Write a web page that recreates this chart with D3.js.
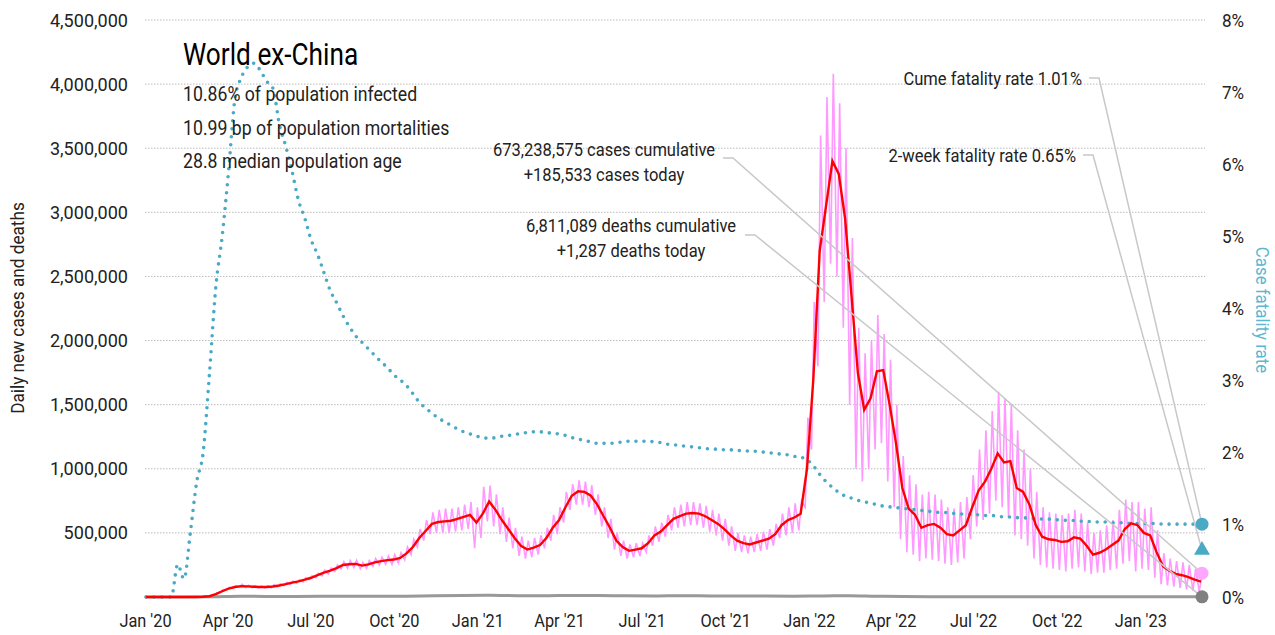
<!DOCTYPE html>
<html>
<head>
<meta charset="utf-8">
<script src="https://cdn.jsdelivr.net/npm/d3@7"></script>
<style>
body { margin: 0; background: #fff; }
svg text { font-family: Roboto, "Noto Sans", sans-serif; fill: #222; }
</style>
</head>
<body>
<script>
// weekly series, first week starts Mon 30 Dec 2019 (three empty weeks before the data)
const firstWeek = "2019-12-30";
const lastDay = "2023-03-10";

// 7-day average of new cases, thousands
const casesAvgK = [0,0,0,
  0,0,0,0,0,0.5,2,6,22,45,
  65,78,85,83,80,78,78,82,90,100,112,122,135,
  150,170,190,205,225,250,255,258,245,255,270,280,288,
  292,305,340,390,460,515,570,585,590,595,610,625,640,
  580,650,745,680,600,530,460,400,370,385,405,460,540,
  600,700,790,825,820,790,720,630,540,440,390,360,370,
  380,420,480,510,560,610,630,650,655,650,630,600,570,
  530,480,440,420,410,425,440,455,490,560,600,620,650,
  1000,1700,2700,3050,3400,3300,2950,2350,1750,1460,1550,1760,1770,
  1500,1200,850,690,640,540,560,570,540,490,480,520,560,
  700,830,900,1000,1120,1050,1060,850,820,720,560,470,450,
  445,430,435,465,455,400,330,345,370,405,440,530,575,
  560,500,480,350,240,205,180,170,155,135,120];

// daily new cases, weekly peak and weekly trough, thousands
const casesHighK = [0,0,0,
  0,0,0,0,0,1,4,12,32,58,
  75,88,100,92,88,86,88,95,103,115,125,135,150,
  165,185,210,225,250,275,285,285,270,285,300,310,320,
  330,345,390,450,530,600,660,680,690,690,700,720,740,
  700,860,870,800,700,620,540,470,440,460,480,540,640,
  700,820,880,910,900,870,800,700,610,500,440,410,420,
  420,480,550,580,640,700,720,740,740,730,710,680,650,
  610,550,500,480,470,490,510,530,570,650,700,730,750,
  1400,2300,3600,3900,4080,3850,3500,2800,2100,1900,2000,2200,2050,
  1850,1500,1100,950,880,800,820,800,760,700,690,740,780,
  950,1150,1300,1450,1600,1550,1500,1300,1150,1000,820,700,660,
  650,640,650,680,650,580,500,520,560,600,680,760,740,
  740,690,700,520,340,300,280,270,250,220,190];

const casesLowK = [0,0,0,
  0,0,0,0,0,0,1,3,15,38,
  58,70,75,74,72,70,70,72,80,88,98,108,118,
  135,150,165,180,200,220,225,230,220,225,240,250,255,
  255,265,290,330,390,440,490,500,500,500,510,520,530,
  380,460,590,550,490,430,380,320,300,310,330,380,440,
  490,580,680,720,720,700,640,550,460,370,320,300,310,
  320,350,400,430,470,520,540,550,560,560,540,510,480,
  440,400,360,350,340,350,360,370,400,460,480,500,520,
  700,1150,1800,2300,2600,2500,2100,1500,1000,900,1000,1150,1200,
  900,700,450,350,330,280,300,290,280,260,250,270,300,
  450,550,600,650,750,700,620,480,450,400,300,250,230,
  220,210,200,220,230,200,180,190,190,210,220,260,280,
  200,220,210,150,100,90,80,70,60,50,40];

// cumulative case fatality rate, percent
const fatalityPct = [0,0,0,
  0,0,0.45,0.25,0.9,1.6,2.0,3.1,4.3,5.0,
  5.9,6.9,7.2,7.35,7.4,7.3,7.15,7.05,6.55,6.25,5.9,5.5,5.25,
  4.95,4.75,4.5,4.25,4.08,3.9,3.75,3.62,3.53,3.44,3.35,3.26,3.18,
  3.08,3.01,2.93,2.82,2.7,2.62,2.55,2.48,2.43,2.38,2.33,2.29,2.26,
  2.23,2.21,2.2,2.21,2.23,2.24,2.25,2.27,2.28,2.29,2.29,2.28,2.27,
  2.26,2.24,2.21,2.19,2.17,2.15,2.13,2.13,2.13,2.14,2.15,2.16,2.16,
  2.16,2.16,2.15,2.14,2.12,2.11,2.1,2.09,2.08,2.07,2.06,2.05,2.05,
  2.04,2.04,2.03,2.03,2.02,2.02,2.01,2.0,1.99,1.98,1.97,1.95,1.94,
  1.9,1.82,1.7,1.6,1.52,1.45,1.4,1.37,1.34,1.32,1.3,1.28,1.26,
  1.25,1.24,1.23,1.22,1.21,1.2,1.19,1.18,1.17,1.17,1.16,1.15,1.15,
  1.14,1.14,1.13,1.13,1.12,1.11,1.11,1.1,1.1,1.09,1.09,1.08,1.08,
  1.07,1.07,1.06,1.06,1.05,1.05,1.04,1.04,1.04,1.03,1.03,1.03,1.02,
  1.02,1.02,1.02,1.02,1.01,1.01,1.01,1.01,1.01,1.01,1.01];

// daily deaths, monthly level
const deathDates = ["2020-01-01","2020-02-15","2020-03-15","2020-04-15","2020-05-15","2020-06-15","2020-07-15","2020-08-15","2020-09-15","2020-10-15","2020-11-15","2020-12-15",
  "2021-01-15","2021-02-15","2021-03-15","2021-04-15","2021-05-15","2021-06-15","2021-07-15","2021-08-15","2021-09-15","2021-10-15","2021-11-15","2021-12-15",
  "2022-01-15","2022-02-15","2022-03-15","2022-04-15","2022-05-15","2022-06-15","2022-07-15","2022-08-15","2022-09-15","2022-10-15","2022-11-15","2022-12-15",
  "2023-01-15","2023-02-15","2023-03-10"];
const deathsDaily = [0,10,1500,6500,4300,4600,5400,5800,5300,6200,9800,11500,
  13500,10000,9000,12500,12000,9000,8200,9900,8500,6900,7000,6700,
  7500,10500,6500,3200,2000,1400,2000,2200,1700,1500,1300,1600,
  1900,1200,1000];

const yTicks = [500000,1000000,1500000,2000000,2500000,3000000,3500000,4000000,4500000];
const rTicks = [0,0.01,0.02,0.03,0.04,0.05,0.06,0.07,0.08];

const title = "World ex-China";
const facts = ["10.86% of population infected", "10.99 bp of population mortalities", "28.8 median population age"];
const casesCum = "673,238,575", casesToday = 185533;
const deathsCum = "6,811,089", deathsToday = 1287;
const cumeRate = 1.01, twoWeekRate = 0.65;

const pink = "#ff99ff", red = "#ff0000", teal = "#4aaac5", tealText = "#5db7d0", grey = "#999";

const W = 1275, H = 635;
const svg = d3.select("body").append("svg").attr("width", W).attr("height", H);

const x = d3.scaleTime().domain([new Date("2020-01-01T00:00"), new Date(lastDay + "T00:00")]).range([145, 1202]);
const y = d3.scaleLinear().domain([0, 4500000]).range([597, 20]);
const yR = d3.scaleLinear().domain([0, 0.08]).range([597, 20]);

const w0 = new Date(firstWeek + "T00:00");
const weekDay = (i, off) => d3.timeDay.offset(w0, i * 7 + off);

// narrow text: Roboto squeezed horizontally
function label(parent, px, py, str, size, sx, anchor) {
  return parent.append("text")
    .attr("transform", `translate(${px},${py}) scale(${sx},1)`)
    .attr("text-anchor", anchor || "start")
    .attr("font-size", size)
    .text(str);
}

// gridlines
svg.append("g").selectAll("line").data(yTicks).join("line")
  .attr("x1", 145).attr("x2", 1205)
  .attr("y1", d => y(d)).attr("y2", d => y(d))
  .attr("stroke", "#bbb").attr("stroke-dasharray", "1.5,1.5");

// axes
const yAxis = d3.axisLeft(y).tickValues(yTicks).tickSize(0).tickPadding(0).tickFormat(d3.format(","));
svg.append("g").attr("class", "y axis").attr("transform", "translate(128,0)").call(yAxis)
  .call(g => g.select(".domain").remove())
  .selectAll("text").attr("font-size", 19).attr("fill", "#222").attr("font-family", null)
  .attr("transform", "scale(0.95,1)");

const rAxis = d3.axisRight(yR).tickValues(rTicks).tickSize(0).tickPadding(0).tickFormat(d3.format(".0%"));
svg.append("g").attr("class", "r axis").attr("transform", "translate(1222,0)").call(rAxis)
  .call(g => g.select(".domain").remove())
  .selectAll("text").attr("font-size", 19).attr("fill", tealText).attr("font-family", null)
  .attr("transform", "scale(0.9,1)");

const xAxis = d3.axisBottom(x).ticks(d3.timeMonth.every(3)).tickSize(0).tickPadding(0).tickFormat(d3.timeFormat("%b '%y"));
svg.append("g").attr("class", "x axis").attr("transform", "translate(0,620)").call(xAxis)
  .call(g => g.select(".domain").remove())
  .selectAll("text").attr("font-size", 19).attr("fill", "#222").attr("font-family", null)
  .attr("y", 0).attr("dy", "0.35em").attr("transform", "scale(0.86,1)");

svg.selectAll(".axis text").style("fill", null);

label(svg, 24, 308, "Daily new cases and deaths", 18.5, 0.93, "middle")
  .attr("transform", "translate(24,308) rotate(-90) scale(0.93,1)");
label(svg, 1256, 310, "Case fatality rate", 18.5, 0.91, "middle")
  .attr("transform", "translate(1256,310) rotate(90) scale(0.91,1)")
  .style("fill", tealText);

// raw daily cases: weekly trough then weekly peak
const pinkPts = [];
casesLowK.forEach((v, i) => {
  pinkPts.push([weekDay(i, 1), v * 1000]);
  pinkPts.push([weekDay(i, 4), casesHighK[i] * 1000]);
});
svg.append("path").datum(pinkPts.filter(d => d[0] >= x.domain()[0]))
  .attr("fill", "none").attr("stroke", pink).attr("stroke-width", 1.6)
  .attr("d", d3.line().x(d => x(d[0])).y(d => y(d[1])));

// deaths
svg.append("path").datum(deathsDaily.map((v, i) => [new Date(deathDates[i] + "T00:00"), v]))
  .attr("fill", "none").attr("stroke", grey).attr("stroke-width", 3)
  .attr("d", d3.line().x(d => x(d[0])).y(d => y(d[1])).curve(d3.curveMonotoneX));

// fatality rate
svg.append("path").datum(fatalityPct.map((v, i) => [weekDay(i, 3), v / 100]).filter(d => d[0] >= x.domain()[0]))
  .attr("fill", "none").attr("stroke", teal).attr("stroke-width", 3.6)
  .attr("stroke-linecap", "round").attr("stroke-dasharray", "0,8")
  .attr("d", d3.line().x(d => x(d[0])).y(d => yR(d[1])).curve(d3.curveMonotoneX));

// 7-day average
svg.append("path").datum(casesAvgK.map((v, i) => [weekDay(i, 3), v * 1000]).filter(d => d[0] >= x.domain()[0]))
  .attr("fill", "none").attr("stroke", red).attr("stroke-width", 2.4)
  .attr("d", d3.line().x(d => x(d[0])).y(d => y(d[1])));

// title block
label(svg, 183, 65, title, 30.5, 0.86).style("fill", "#000");
facts.forEach((t, i) => label(svg, 183, 101 + i * 33.5, t, 20.7, 0.855));

// callouts
const xEnd = x(new Date(lastDay + "T00:00"));
const callouts = [
  {lines: [casesCum + " cases cumulative", "+" + d3.format(",")(casesToday) + " cases today"], cx: 604, ty: 156, anchor: "middle",
   lx: 723, ly: 158, tx: xEnd, tyEnd: y(casesToday)},
  {lines: [deathsCum + " deaths cumulative", "+" + d3.format(",")(deathsToday) + " deaths today"], cx: 631, ty: 232, anchor: "middle",
   lx: 745, ly: 235, tx: xEnd, tyEnd: y(deathsToday)},
  {lines: ["Cume fatality rate " + cumeRate.toFixed(2) + "%"], cx: 1082, ty: 85, anchor: "end",
   lx: 1089, ly: 78, tx: xEnd, tyEnd: yR(cumeRate / 100)},
  {lines: ["2-week fatality rate " + twoWeekRate.toFixed(2) + "%"], cx: 1076, ty: 162, anchor: "end",
   lx: 1083, ly: 155, tx: xEnd, tyEnd: yR(twoWeekRate / 100)}
];
callouts.forEach(c => {
  svg.append("path")
    .attr("d", `M${c.lx},${c.ly}H${c.lx + 10}L${c.tx},${c.tyEnd}`)
    .attr("fill", "none").attr("stroke", "#c8c8c8").attr("stroke-width", 1.5);
  c.lines.forEach((t, i) => label(svg, c.cx, c.ty + i * 24.5, t, 19, 0.87, c.anchor));
});

// end markers
svg.append("circle").attr("cx", xEnd).attr("cy", y(casesToday)).attr("r", 6.5).attr("fill", "#ffa6ff");
svg.append("circle").attr("cx", xEnd).attr("cy", y(deathsToday)).attr("r", 6.5).attr("fill", "#808080");
svg.append("circle").attr("cx", xEnd).attr("cy", yR(cumeRate / 100)).attr("r", 6.5).attr("fill", teal);
svg.append("path").attr("transform", `translate(${xEnd},${yR(twoWeekRate / 100)})`)
  .attr("d", d3.symbol(d3.symbolTriangle, 110)()).attr("fill", teal);
</script>
</body>
</html>
